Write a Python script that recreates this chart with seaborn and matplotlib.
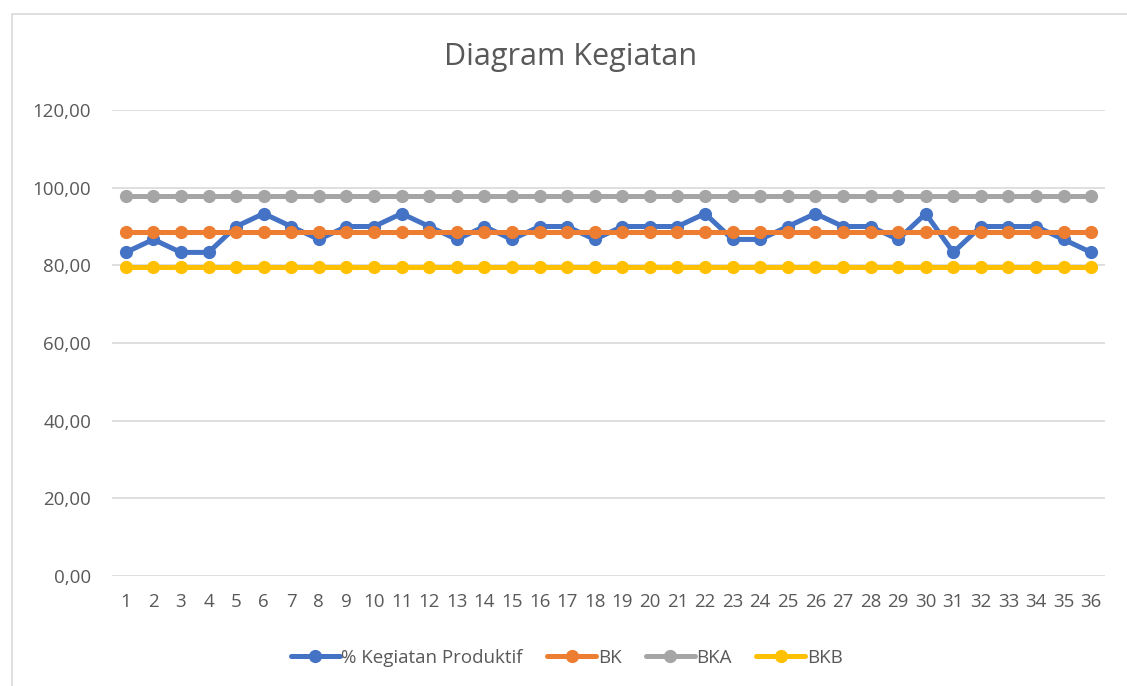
import pandas as pd
import numpy as np
import matplotlib.pyplot as plt
import seaborn as sns
from matplotlib.ticker import FuncFormatter, MultipleLocator
from matplotlib.patches import Rectangle

# data
hari = list(range(1, 37))
kegiatan_produktif = [83.33, 86.67, 83.33, 83.33, 90.00, 93.33, 90.00, 86.67, 90.00, 90.00,
                      93.33, 90.00, 86.67, 90.00, 86.67, 90.00, 90.00, 86.67, 90.00, 90.00,
                      90.00, 93.33, 86.67, 86.67, 90.00, 93.33, 90.00, 90.00, 86.67, 93.33,
                      83.33, 90.00, 90.00, 90.00, 86.67, 83.33]
bk_value = 88.70
bka_value = 97.74
bkb_value = 79.67

series_names = ['% Kegiatan Produktif', 'BK', 'BKA', 'BKB']
series_colors = ['#4472C4', '#ED7D31', '#A5A5A5', '#FFC000']

df = pd.DataFrame({
    'hari': hari,
    '% Kegiatan Produktif': kegiatan_produktif,
    'BK': [bk_value] * len(hari),
    'BKA': [bka_value] * len(hari),
    'BKB': [bkb_value] * len(hari),
})
long = df.melt(id_vars='hari', var_name='seri', value_name='nilai')

sns.set_style('white')
plt.rcParams['font.family'] = ['Open Sans', 'DejaVu Sans']

fig = plt.figure(figsize=(11.27, 6.86), dpi=100)
ax = fig.add_axes([112 / 1127, 1 - 576 / 686, (1105 - 112) / 1127, (576 - 110) / 686])

# chart frame
fig.patches.append(Rectangle((12 / 1127, -0.01), 1.0, 1 - 14 / 686 + 0.01,
                             transform=fig.transFigure, fill=False,
                             edgecolor='#D9D9D9', linewidth=1.2))

for i, (name, col) in enumerate(zip(series_names, series_colors)):
    sub = long[long['seri'] == name]
    sns.lineplot(data=sub, x='hari', y='nilai', ax=ax, color=col, label=name,
                 marker='o', markersize=9.5, markeredgewidth=0, linewidth=3.6,
                 zorder=3 + i)

ax.set_xlim(0.5, 36.5)
ax.set_ylim(0, 120)
ax.yaxis.set_major_locator(MultipleLocator(20))
ax.yaxis.set_major_formatter(FuncFormatter(lambda v, p: f'{v:.2f}'.replace('.', ',')))
ax.set_xticks(hari)
ax.set_xticklabels([str(h) for h in hari])
ax.grid(axis='y', color='#D9D9D9', linewidth=1.2)
ax.set_axisbelow(True)
for s in ax.spines.values():
    s.set_visible(False)
ax.tick_params(axis='both', length=0, colors='#595959', labelsize=13.5)
ax.tick_params(axis='y', pad=15)
ax.tick_params(axis='x', pad=12)
ax.set_xlabel('')
ax.set_ylabel('')

fig.text(571 / 1127, 1 - 57 / 686, 'Diagram Kegiatan', ha='center', va='center',
         fontsize=22, color='#595959')

ax.legend(loc='center', bbox_to_anchor=(0.458, -0.176), ncol=4, frameon=False,
          fontsize=13.5, labelcolor='#595959', handlelength=2.6, handletextpad=0.1,
          columnspacing=1.3)

fig.savefig('out.png', dpi=100)
